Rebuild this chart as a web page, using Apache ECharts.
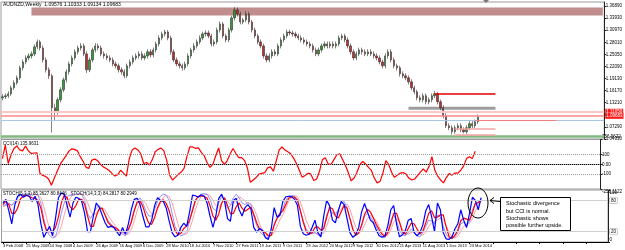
<!DOCTYPE html>
<html>
<head>
<meta charset="utf-8">
<script src="https://cdn.jsdelivr.net/npm/echarts@6/dist/echarts.min.js"></script>
<style>html,body{margin:0;padding:0;background:#fff;}</style>
</head>
<body>
<div id="main" style="width:625px;height:250px;"></div>
<script>
// AUDNZD weekly, one candle per two weeks (3 Feb 2008 .. Jun 2014), plus chart-shift space
var barCount = 208;
var dateTicks = ['3 Feb 2008','25 May 2008','14 Sep 2008','4 Jan 2009','26 Apr 2009','16 Aug 2009',
  '6 Dec 2009','28 Mar 2010','18 Jul 2010','7 Nov 2010','27 Feb 2011','19 Jun 2011','9 Oct 2011',
  '29 Jan 2012','20 May 2012','9 Sep 2012','30 Dec 2012','21 Apr 2013','11 Aug 2013','1 Dec 2013','23 Mar 2014'];

var opens = [1.1440,1.1466,1.1491,1.1539,1.1686,1.1808,1.1930,1.2175,1.2321,1.2419,
1.2468,1.2517,1.2688,1.2810,1.2663,1.2370,1.2126,1.1979,1.1198,1.1100,
1.1393,1.1637,1.1881,1.2077,1.2272,1.2419,1.2566,1.2663,1.2712,1.2517,
1.2126,1.2370,1.2614,1.2712,1.2663,1.2517,1.2468,1.2419,1.2370,1.2272,
1.2224,1.2126,1.2077,1.1979,1.2224,1.2321,1.2419,1.2468,1.2517,1.2419,
1.2468,1.2566,1.2492,1.2614,1.2761,1.2908,1.3005,1.3054,1.2908,1.2566,
1.2370,1.2272,1.2224,1.2175,1.2272,1.2468,1.2614,1.2712,1.2810,1.2908,
1.3005,1.3030,1.2956,1.2761,1.2810,1.3103,1.3250,1.2956,1.2859,1.3103,
1.3396,1.3592,1.3494,1.3298,1.3347,1.3494,1.3298,1.3103,1.2956,1.2810,
1.2712,1.2468,1.2370,1.2468,1.2566,1.2517,1.2712,1.2859,1.2956,1.3054,
1.3030,1.3005,1.2956,1.2908,1.2859,1.2810,1.2761,1.2712,1.2614,1.2517,
1.2614,1.2712,1.2761,1.2712,1.2761,1.2712,1.2761,1.2908,1.2956,1.2859,
1.2712,1.2566,1.2419,1.2517,1.2614,1.2566,1.2517,1.2566,1.2517,1.2468,
1.2419,1.2321,1.2224,1.2468,1.2566,1.2370,1.2224,1.2175,1.2028,1.1979,
1.1930,1.1833,1.1686,1.1588,1.1442,1.1393,1.1491,1.1344,1.1393,1.1491,
1.1539,1.1344,1.1198,1.1002,1.0758,1.0709,1.0611,1.0709,1.0758,1.0660,
1.0611,1.0709,1.0807,1.0758,1.0856];
var closes = [1.1466,1.1491,1.1539,1.1686,1.1808,1.1930,1.2175,1.2321,1.2419,1.2468,
1.2517,1.2688,1.2810,1.2663,1.2370,1.2126,1.1979,1.1198,1.1100,1.1393,
1.1637,1.1881,1.2077,1.2272,1.2419,1.2566,1.2663,1.2712,1.2517,1.2126,
1.2370,1.2614,1.2712,1.2663,1.2517,1.2468,1.2419,1.2370,1.2272,1.2224,
1.2126,1.2077,1.1979,1.2224,1.2321,1.2419,1.2468,1.2517,1.2419,1.2468,
1.2566,1.2492,1.2614,1.2761,1.2908,1.3005,1.3054,1.2908,1.2566,1.2370,
1.2272,1.2224,1.2175,1.2272,1.2468,1.2614,1.2712,1.2810,1.2908,1.3005,
1.3030,1.2956,1.2761,1.2810,1.3103,1.3250,1.2956,1.2859,1.3103,1.3396,
1.3592,1.3494,1.3298,1.3347,1.3494,1.3298,1.3103,1.2956,1.2810,1.2712,
1.2468,1.2370,1.2468,1.2566,1.2517,1.2712,1.2859,1.2956,1.3054,1.3030,
1.3005,1.2956,1.2908,1.2859,1.2810,1.2761,1.2712,1.2614,1.2517,1.2614,
1.2712,1.2761,1.2712,1.2761,1.2712,1.2761,1.2908,1.2956,1.2859,1.2712,
1.2566,1.2419,1.2517,1.2614,1.2566,1.2517,1.2566,1.2517,1.2468,1.2419,
1.2321,1.2224,1.2468,1.2566,1.2370,1.2224,1.2175,1.2028,1.1979,1.1930,
1.1833,1.1686,1.1588,1.1442,1.1393,1.1491,1.1344,1.1393,1.1491,1.1539,
1.1344,1.1198,1.1002,1.0758,1.0709,1.0611,1.0709,1.0758,1.0660,1.0611,
1.0709,1.0807,1.0758,1.0856,1.0968];
var lows = [1.1380,1.1410,1.1440,1.1490,1.1630,1.1760,1.1880,1.2110,1.2260,1.2360,
1.2400,1.2460,1.2630,1.2600,1.2310,1.2060,1.1900,1.0590,1.0900,1.1030,
1.1330,1.1580,1.1820,1.2010,1.2210,1.2360,1.2500,1.2600,1.2460,1.2050,
1.2070,1.2310,1.2550,1.2600,1.2460,1.2400,1.2360,1.2310,1.2210,1.2160,
1.2060,1.2010,1.1920,1.1930,1.2160,1.2260,1.2360,1.2400,1.2360,1.2360,
1.2400,1.2430,1.2430,1.2550,1.2700,1.2850,1.2940,1.2850,1.2500,1.2310,
1.2210,1.2160,1.2110,1.2120,1.2210,1.2400,1.2550,1.2650,1.2750,1.2850,
1.2940,1.2900,1.2700,1.2700,1.2750,1.3040,1.2900,1.2800,1.2800,1.3040,
1.3330,1.3430,1.3240,1.3240,1.3290,1.3240,1.3040,1.2900,1.2750,1.2650,
1.2400,1.2310,1.2310,1.2400,1.2460,1.2460,1.2650,1.2800,1.2900,1.2970,
1.2940,1.2900,1.2850,1.2800,1.2750,1.2700,1.2650,1.2550,1.2460,1.2460,
1.2550,1.2650,1.2650,1.2650,1.2650,1.2650,1.2700,1.2850,1.2800,1.2650,
1.2500,1.2360,1.2360,1.2460,1.2500,1.2460,1.2460,1.2460,1.2400,1.2360,
1.2260,1.2160,1.2160,1.2400,1.2310,1.2160,1.2110,1.1960,1.1920,1.1870,
1.1770,1.1630,1.1530,1.1380,1.1330,1.1330,1.1280,1.1280,1.1330,1.1430,
1.1280,1.1140,1.0940,1.0700,1.0650,1.0540,1.0560,1.0650,1.0600,1.0570,
1.0560,1.0650,1.0700,1.0700,1.0800];
var highs = [1.1530,1.1550,1.1600,1.1740,1.1870,1.1990,1.2230,1.2380,1.2480,1.2530,
1.2580,1.2750,1.2870,1.2860,1.2720,1.2430,1.2190,1.2030,1.1300,1.1450,
1.1700,1.1940,1.2140,1.2330,1.2480,1.2630,1.2720,1.2780,1.2770,1.2580,
1.2430,1.2670,1.2780,1.2770,1.2720,1.2580,1.2530,1.2480,1.2430,1.2330,
1.2280,1.2190,1.2140,1.2280,1.2380,1.2480,1.2530,1.2580,1.2580,1.2530,
1.2630,1.2630,1.2670,1.2820,1.2970,1.3060,1.3110,1.3100,1.2960,1.2630,
1.2430,1.2330,1.2280,1.2330,1.2530,1.2670,1.2780,1.2870,1.2970,1.3060,
1.3090,1.3090,1.3010,1.2870,1.3160,1.3310,1.3300,1.3010,1.3160,1.3450,
1.3660,1.3650,1.3550,1.3400,1.3560,1.3550,1.3350,1.3160,1.3010,1.2870,
1.2770,1.2530,1.2530,1.2630,1.2630,1.2770,1.2920,1.3010,1.3110,1.3110,
1.3090,1.3060,1.3010,1.2970,1.2920,1.2870,1.2820,1.2770,1.2670,1.2670,
1.2770,1.2820,1.2820,1.2820,1.2820,1.2820,1.2970,1.3010,1.3010,1.2920,
1.2770,1.2630,1.2580,1.2670,1.2670,1.2630,1.2630,1.2630,1.2580,1.2530,
1.2480,1.2380,1.2530,1.2630,1.2630,1.2430,1.2280,1.2230,1.2090,1.2040,
1.1990,1.1890,1.1740,1.1640,1.1500,1.1550,1.1550,1.1450,1.1550,1.1610,
1.1590,1.1400,1.1260,1.1060,1.0820,1.0770,1.0770,1.0820,1.0820,1.0720,
1.0770,1.0870,1.0870,1.0910,1.1033];

var cci = [60,200,10,100,165,190,150,140,190,140,
113,118,120,-90,-113,-125,-150,-215,-140,-70,
0,45,85,135,160,155,140,80,30,-30,
-40,45,55,40,0,-25,-41,-62,-92,-120,
-105,-60,-90,-120,60,150,170,150,110,10,
20,-5,50,130,155,170,140,40,-110,-160,
-133,-100,-78,-40,80,180,180,165,170,125,
90,20,-30,0,90,170,40,0,40,110,
165,113,70,70,40,-40,-185,-160,-135,-100,
-92,-85,-35,-25,-70,40,150,180,148,130,
110,65,10,-60,-133,-113,-90,-100,-165,-150,
-70,50,70,5,0,50,100,110,50,-10,
-85,-170,-140,-80,0,30,5,-31,-62,-140,
-190,-175,-90,40,0,-80,-133,-110,-90,-84,
-100,-140,-160,-150,-115,-80,-45,-80,-20,80,
-60,-120,-160,-190,-135,-95,-110,-88,-90,-60,
-15,60,80,60,136];

var stoch5Main = [75,82,60,35,70,88,92,86,90,88,
78,88,72,35,9,20,30,12,45,85,
94,92,70,48,75,86,84,78,55,20,
20,50,75,67,52,37,28,30,28,20,
12,28,15,35,62,82,84,72,49,29,
29,42,70,85,80,78,65,40,18,10,
13,28,36,30,58,90,89,86,91,88,
75,50,28,50,84,92,78,45,40,80,
84,62,50,66,72,64,28,19,26,22,
8,5,25,66,48,52,78,87,88,87,
82,70,30,16,13,15,28,42,18,10,
50,80,70,42,37,60,78,72,45,18,
9,14,28,58,74,58,42,37,23,12,
9,12,32,62,70,34,10,14,22,42,
45,18,12,18,33,60,72,49,20,75,
62,18,6,5,10,25,35,62,42,28,
55,86,80,62,85.36];
var stoch5Signal = [72,78,72,55,55,65,83,89,89,88,
85,84,80,65,38,20,20,20,28,48,
75,90,85,68,62,70,82,82,72,50,
30,30,50,64,65,52,38,32,29,26,
20,20,19,25,38,60,76,79,68,50,
36,34,47,66,78,81,74,60,40,22,
14,17,26,31,42,60,80,88,88,88,
84,70,50,42,54,75,85,70,54,55,
68,75,65,59,63,67,54,37,25,22,
18,12,13,32,46,55,60,72,84,87,
86,80,60,38,20,15,18,28,29,23,
26,47,67,64,50,46,58,70,65,45,
24,13,17,33,53,63,58,46,34,24,
15,11,18,35,55,55,38,19,15,26,
36,35,25,16,21,37,55,60,47,48,
52,52,29,10,7,13,23,41,46,44,
42,56,74,76,80.84];
var stoch14Main = [70,72,75,70,78,85,90,92,92,93,90,92,90,
75,45,22,12,8,10,
30,55,75,88,90,90,92,93,92,
80,55,45, 55,65,70,
62,52,42,35,28,22,18,15,12,20,
40,62,78,85, 75,60,50,50,
62,78,88,92,90,
80,55,30,18,12,14,20,
40,65,80,88,92,93,92,
82,65,60, 75,88,80,
65,70,85,92, 85,75,72,76,72,
50,32,20,14,10,8,14,
35,45,50, 65,80,88,90,88,82,
60,40,25,18,16,18,14,10,
28,52,62, 55,52,62,75,78,
65,45,25,15,18,30, 50,55,48,40,
30,18,10,8, 20,42,52,
40,22,14,12,18,25,20,12,10,
18,30,42,40,35, 52,48,30,
15,8,6,10,18, 35,38,30,40,
62,75,74,84.28];
var stoch14Signal = [68,70,72,72,74,78,84,89,91,92,92,92,91,
85,68,45,25,12,10,
15,30,52,72,85,90,91,92,92,
88,76,60, 52,55,63,
66,62,52,43,35,28,22,18,15,15,
24,40,60,75, 80,74,62,54,
54,63,76,86,90,
87,76,55,35,20,15,15,
25,42,62,78,87,91,92,
89,80,70, 67,74,81,
78,72,74,82, 87,84,78,75,74,
65,52,35,22,15,11,11,
19,30,43, 53,65,78,86,89,87,
77,60,42,28,20,17,16,14,
17,30,47, 56,57,56,63,72,
73,63,45,28,19,21, 33,45,51,48,
40,29,19,12, 13,23,38,
45,38,25,16,15,18,21,19,14,
13,19,30,37,39, 42,46,43,
31,18,10,8,11, 21,30,34,36,
44,59,70,80.29];

var priceTicks = [1.04330,1.07290,1.10250,1.13210,1.16170,1.19130,1.22090,1.25050,1.28010,1.30970,1.33930,1.36890];
var cciTicks = [256.9622,100,0,-100,-253.1122];
var cciTickLabels = ['256.9622','100','0.00','-100','-253.1122'];
var stochTicks = [0,100];

// horizontal levels drawn on the price panel
var supportLevel = 1.0470;
var zoneLevel = 1.1105;
var bidLevel = 1.09683;
var blueLevel = 1.0916;
var resistanceTop = 1.3655, resistanceBottom = 1.3455;
var grayZoneTop = 1.1222, grayZoneBottom = 1.1149;
var redLevel = 1.1539;
var pinkLevelA = 1.0684, pinkLevelB = 1.0538;
var salmonLevel = 1.0880;

var categories = [];
for (var i = 0; i < barCount; i++) categories.push(String(i));

var candles = [];
for (var j = 0; j < closes.length; j++) {
    candles.push([opens[j], closes[j], lows[j], highs[j]]);
}

var font = 'Liberation Sans';
var myChart = echarts.init(document.getElementById('main'));

function xAx(g) {
    return {
        type: 'category', gridIndex: g, data: categories, boundaryGap: true,
        axisLine: {show: g > 0, lineStyle: {color: '#000', width: 1}},
        axisTick: {show: g === 2, interval: 7, length: 2, alignWithLabel: true, lineStyle: {color: '#000'}},
        axisLabel: {
            show: g === 2, interval: 7, fontSize: 4, color: '#000', align: 'left', margin: 1.5,
            fontFamily: font,
            formatter: function (v, idx) { return dateTicks[idx / 8] || ''; }
        },
        splitLine: {show: false}
    };
}

function yLabel(extra) {
    return Object.assign({fontSize: 4.5, color: '#000', margin: 1.5, fontFamily: font}, extra);
}

var redTag = function (txt) {
    return {show: true, position: 'end', distance: 1, formatter: txt, backgroundColor: '#ff1a1a',
        color: '#fff', fontSize: 4.5, padding: [1, 1, 0, 1], fontFamily: font};
};
var boxTag = function (txt) {
    return {show: true, position: 'end', distance: 2, formatter: txt, borderColor: '#999', borderWidth: 0.5,
        color: '#000', fontSize: 4.5, padding: [1, 1, 0, 1], backgroundColor: '#fff', fontFamily: font};
};

var option = {
    animation: false,
    backgroundColor: '#fff',
    textStyle: {fontFamily: font},
    grid: [
        {left: 1, right: 17, top: 2, height: 137, show: true, borderColor: '#9a9a9a', borderWidth: 1, backgroundColor: '#fff'},
        {left: 1, right: 17, top: 139.5, height: 49.5, show: true, borderColor: '#9a9a9a', borderWidth: 1},
        {left: 1, right: 17, top: 190, height: 52, show: true, borderColor: '#9a9a9a', borderWidth: 1}
    ],
    xAxis: [xAx(0), xAx(1), xAx(2)],
    yAxis: [
        {type: 'value', gridIndex: 0, position: 'right', min: 1.0433, max: 1.3787,
            axisLine: {show: true, lineStyle: {color: '#222'}},
            axisTick: {show: true, length: 2, customValues: priceTicks, lineStyle: {color: '#222'}},
            axisLabel: yLabel({customValues: priceTicks, formatter: function (v) { return v.toFixed(5); }}),
            splitLine: {show: false}},
        {type: 'value', gridIndex: 1, position: 'right', min: -253.1122, max: 256.9622,
            axisLine: {show: true, lineStyle: {color: '#222'}},
            axisTick: {show: true, length: 2, customValues: cciTicks, lineStyle: {color: '#222'}},
            axisLabel: yLabel({customValues: cciTicks, verticalAlignMaxLabel: 'top', verticalAlignMinLabel: 'bottom',
                formatter: function (v) {
                    var best = 0;
                    for (var k = 0; k < cciTicks.length; k++) {
                        if (Math.abs(cciTicks[k] - v) < Math.abs(cciTicks[best] - v)) best = k;
                    }
                    return cciTickLabels[best];
                }}),
            splitLine: {show: false}},
        {type: 'value', gridIndex: 2, position: 'right', min: 0, max: 100,
            axisLine: {show: true, lineStyle: {color: '#222'}},
            axisTick: {show: true, length: 2, customValues: stochTicks, lineStyle: {color: '#222'}},
            axisLabel: yLabel({customValues: stochTicks, verticalAlignMaxLabel: 'top', verticalAlignMinLabel: 'bottom'}),
            splitLine: {show: false}}
    ],
    series: [
        {
            name: 'AUDNZD', type: 'candlestick', xAxisIndex: 0, yAxisIndex: 0,
            data: candles, barWidth: 1.8,
            itemStyle: {color: '#2f9e2f', color0: '#c42b2b', borderColor: '#333', borderColor0: '#333', borderWidth: 0.6},
            markArea: {
                silent: true,
                data: [
                    [{coord: [10, resistanceTop], itemStyle: {color: '#c08c8c'}}, {coord: [207, resistanceBottom]}],
                    [{coord: [140, grayZoneTop], itemStyle: {color: '#9c9c9c'}}, {coord: [170, grayZoneBottom]}]
                ]
            },
            markLine: {
                silent: true, symbol: ['none', 'none'],
                data: [
                    {yAxis: supportLevel, lineStyle: {color: '#80b880', width: 2.5, type: 'solid'}, label: {show: false}},
                    {yAxis: zoneLevel, lineStyle: {color: '#ffc6c6', width: 2, type: 'solid'}, label: redTag('1.11050')},
                    {yAxis: blueLevel, lineStyle: {color: '#a8c6e8', width: 1, type: 'solid'}, label: {show: false}},
                    {yAxis: bidLevel, lineStyle: {color: '#ff8a8a', width: 1.5, type: 'solid'}, label: redTag('1.09683')},
                    [{coord: [149, redLevel], lineStyle: {color: '#e00000', width: 1.5, type: 'solid'}, label: {show: false}}, {coord: [170, redLevel]}],
                    [{coord: [156, pinkLevelA], lineStyle: {color: '#f5a5a5', width: 1.5, type: 'solid'}, label: {show: false}}, {coord: [170, pinkLevelA]}],
                    [{coord: [156, pinkLevelB], lineStyle: {color: '#f5a5a5', width: 1.5, type: 'solid'}, label: {show: false}}, {coord: [170, pinkLevelB]}],
                    [{coord: [163, salmonLevel], lineStyle: {color: '#f08080', width: 1, type: 'solid'}, label: {show: false}}, {coord: [191, salmonLevel]}]
                ]
            }
        },
        {
            name: 'CCI(14)', type: 'line', xAxisIndex: 1, yAxisIndex: 1, data: cci,
            showSymbol: false, lineStyle: {color: '#ff0000', width: 1.2}, itemStyle: {color: '#ff0000'},
            markLine: {
                silent: true, symbol: ['none', 'none'], label: {show: false},
                lineStyle: {color: '#9a9a9a', type: 'dotted', width: 1},
                data: [{yAxis: 100}, {yAxis: 0}, {yAxis: -100}]
            }
        },
        {
            name: 'Stoch14 signal', type: 'line', xAxisIndex: 2, yAxisIndex: 2, data: stoch14Signal,
            showSymbol: false, lineStyle: {color: '#ffa0a0', width: 1}, itemStyle: {color: '#ffa0a0'},
            markLine: {
                silent: true, symbol: ['none', 'none'],
                lineStyle: {color: '#cfcfcf', type: 'solid', width: 1},
                data: [{yAxis: 80, label: boxTag('80')}, {yAxis: 20, label: boxTag('20')}]
            }
        },
        {
            name: 'Stoch14 main', type: 'line', xAxisIndex: 2, yAxisIndex: 2, data: stoch14Main,
            showSymbol: false, lineStyle: {color: '#9090ff', width: 1}, itemStyle: {color: '#9090ff'}
        },
        {
            name: 'Stoch5 signal', type: 'line', xAxisIndex: 2, yAxisIndex: 2, data: stoch5Signal,
            showSymbol: false, lineStyle: {color: '#ff0000', width: 1.2}, itemStyle: {color: '#ff0000'}
        },
        {
            name: 'Stoch5 main', type: 'line', xAxisIndex: 2, yAxisIndex: 2, data: stoch5Main,
            showSymbol: false, lineStyle: {color: '#0000ff', width: 1.2}, itemStyle: {color: '#0000ff'}
        }
    ],
    graphic: [
        {type: 'text', left: 3, top: 2, z: 100,
            style: {text: 'AUDNZD,Weekly  1.09576 1.10333 1.09134 1.09683', fontSize: 5, fill: '#000', font: '5px ' + font}},
        {type: 'text', left: 3, top: 141, z: 100,
            style: {text: 'CCI(14) 135.9631', fontSize: 4.5, fill: '#000', font: '4.5px ' + font}},
        {type: 'text', left: 3, top: 191.5, z: 100,
            style: {text: 'STOCH(5,3,3) 85.3627 80.8446   STOCH(14,3,3) 84.2817 80.2949', fontSize: 4.5, fill: '#000', font: '4.5px ' + font}},
        {type: 'polygon', z: 100, shape: {points: [[483, 0], [489, 0], [486, 3]]}, style: {fill: '#777'}},
        {type: 'ellipse', z: 100, shape: {cx: 478, cy: 203, rx: 10, ry: 15}, style: {fill: 'none', stroke: '#000', lineWidth: 1}},
        {type: 'line', z: 100, shape: {x1: 500, y1: 201.5, x2: 490, y2: 200.5}, style: {stroke: '#000', lineWidth: 1}},
        {type: 'polyline', z: 100, shape: {points: [[494, 197.5], [490, 200.5], [494, 203.5]]}, style: {stroke: '#000', lineWidth: 1, fill: 'none'}},
        {type: 'rect', z: 100, shape: {x: 500.5, y: 197.5, width: 70, height: 33}, style: {fill: '#fff', stroke: '#000', lineWidth: 1}},
        {type: 'text', z: 101, left: 506, top: 200,
            style: {text: 'Stochastic divergence\nbut CCI is normal.\nStochastic shows\npossible further upside.',
                fill: '#000', font: '5.5px ' + font, lineHeight: 7.4}}
    ]
};
myChart.setOption(option);
</script>
</body>
</html>
